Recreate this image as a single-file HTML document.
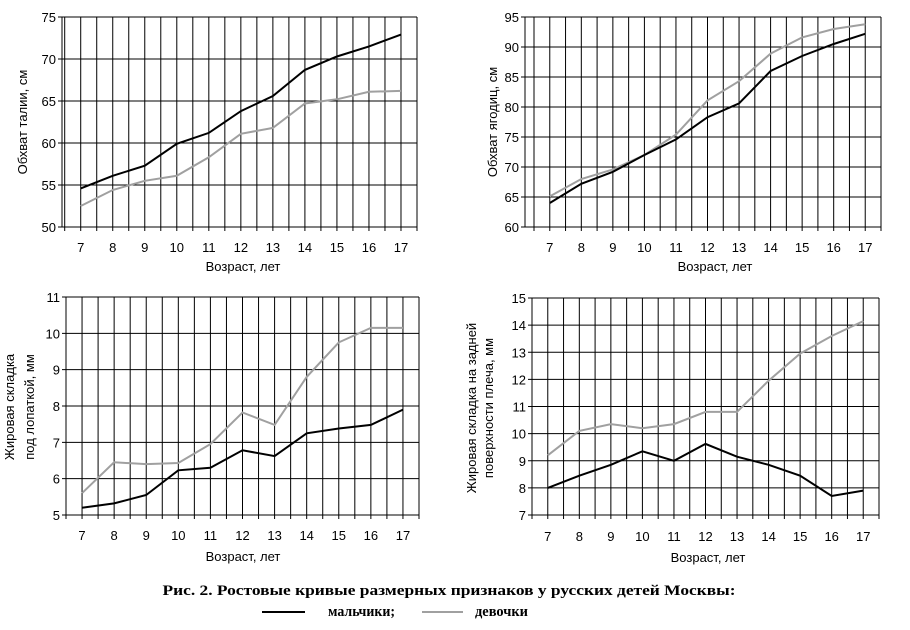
<!DOCTYPE html>
<html><head><meta charset="utf-8"><style>
html,body{margin:0;padding:0;background:#fff;}
svg{display:block;}
text{font-family:"Liberation Sans",sans-serif;font-size:13px;fill:#000;}
.cap{font-family:"Liberation Serif",serif;font-weight:bold;font-size:15px;}
</style></head><body>
<svg id="root" width="910" height="630" viewBox="0 0 910 630" xmlns="http://www.w3.org/2000/svg">
<text class="cap" x="449" y="595" text-anchor="middle" textLength="573" lengthAdjust="spacingAndGlyphs">Рис. 2. Ростовые кривые размерных признаков у русских детей Москвы:</text>
<line x1="262" y1="612" x2="305" y2="612" stroke="#000" stroke-width="2"/>
<text class="cap" x="328" y="616" textLength="67" lengthAdjust="spacingAndGlyphs">мальчики;</text>
<line x1="422" y1="612" x2="463" y2="612" stroke="#a0a0a0" stroke-width="2"/>
<text class="cap" x="475" y="616" textLength="53" lengthAdjust="spacingAndGlyphs">девочки</text>
</svg>
<script>
const ages = ['7','8','9','10','11','12','13','14','15','16','17'];
const waistBoys = [54.6,56.1,57.3,59.9,61.2,63.8,65.6,68.7,70.3,71.5,72.9];
const waistGirls = [52.5,54.4,55.5,56.1,58.3,61.1,61.8,64.7,65.2,66.1,66.2];
const waistTicks = [50,55,60,65,70,75];
const hipBoys = [64,67.2,69.2,72,74.6,78.3,80.6,86,88.5,90.5,92.2];
const hipGirls = [65.1,68,69.6,72,75.4,81.1,84.3,88.9,91.6,93,93.8];
const hipTicks = [60,65,70,75,80,85,90,95];
const scapBoys = [5.2,5.32,5.55,6.23,6.3,6.78,6.62,7.25,7.38,7.48,7.9];
const scapGirls = [5.6,6.45,6.4,6.43,6.95,7.82,7.48,8.8,9.75,10.15,10.15];
const scapTicks = [5,6,7,8,9,10,11];
const armBoys = [8,8.45,8.85,9.35,9.0,9.62,9.15,8.85,8.45,7.7,7.9];
const armGirls = [9.2,10.1,10.35,10.2,10.35,10.8,10.8,11.95,12.95,13.6,14.15];
const armTicks = [7,8,9,10,11,12,13,14,15];

const NS='http://www.w3.org/2000/svg';
const root=document.getElementById('root');
function mk(tag,attrs,parent){const e=document.createElementNS(NS,tag);for(const k in attrs)e.setAttribute(k,attrs[k]);(parent||root).appendChild(e);return e;}

function chart(cfg){
  const g=mk('g',{});
  
  
  const {ax,gx,x1,y0,y1,ticks,boys,girls}=cfg;
  const tmin=ticks[0],tmax=ticks[ticks.length-1];
  const ys=v=>y1-(v-tmin)/(tmax-tmin)*(y1-y0);
  const step=(x1-gx)/ages.length;
  const xs=i=>gx+step*(i+0.5);
  ticks.forEach(t=>{
    const l=mk('line',{x1:ax-4,x2:x1,y1:ys(t),y2:ys(t),stroke:'#000','stroke-width':1},g);
    
    
    const tx=mk('text',{x:ax-6,y:ys(t)+5,'text-anchor':'end'},g);
    tx.textContent=t;
    
    
  });
  for(let k=0;k<=ages.length*2;k++){
    const x=gx+step*k/2;
    const l=mk('line',{x1:x,x2:x,y1:y0,y2:y1+4,stroke:'#000','stroke-width':1},g);
    
    
  }
  const axl=mk('line',{x1:ax,x2:ax,y1:y0,y2:y1,stroke:'#000','stroke-width':1},g);
  
  
  ages.forEach((a,i)=>{
    const t=mk('text',{x:xs(i),y:cfg.xly,'text-anchor':'middle'},g);
    t.textContent=a;
    
    
  });
  const xt=mk('text',{x:cfg.xtx,y:cfg.xty,'text-anchor':'middle'},g);
  xt.textContent='Возраст, лет';
  
  
  cfg.ytitle.forEach((s,j)=>{
    const x=cfg.ytx[j];
    const t=mk('text',{x:x,y:cfg.yty,'text-anchor':'middle',transform:`rotate(-90 ${x} ${cfg.yty})`},g);
    t.textContent=s;
    
    
  });
  const pts=arr=>arr.map((v,i)=>xs(i).toFixed(1)+','+ys(v).toFixed(1)).join(' ');
  const pg=mk('polyline',{points:pts(girls),fill:'none',stroke:'#a0a0a0','stroke-width':2},g);
  
  
  const pb=mk('polyline',{points:pts(boys),fill:'none',stroke:'#000','stroke-width':2},g);
  
  
}
chart({name:'waist-chart',ax:62,gx:64.7,x1:417,y0:17,y1:227,ticks:waistTicks,boys:waistBoys,girls:waistGirls,xly:252,xtx:243,xty:271,ytitle:['Обхват талии, см'],ytx:[27],yty:122});
chart({name:'hip-chart',ax:525,gx:534,x1:881,y0:17,y1:227,ticks:hipTicks,boys:hipBoys,girls:hipGirls,xly:252,xtx:715,xty:271,ytitle:['Обхват ягодиц, см'],ytx:[497],yty:122});
chart({name:'subscapular-chart',ax:66,gx:66,x1:419,y0:297,y1:515,ticks:scapTicks,boys:scapBoys,girls:scapGirls,xly:540,xtx:243,xty:561,ytitle:['Жировая складка','под лопаткой, мм'],ytx:[14,34],yty:407});
chart({name:'triceps-chart',ax:532,gx:532,x1:879,y0:298,y1:515,ticks:armTicks,boys:armBoys,girls:armGirls,xly:541,xtx:708,xty:562,ytitle:['Жировая складка на задней','поверхности плеча, мм'],ytx:[476,493],yty:408});
</script>
</body></html>
